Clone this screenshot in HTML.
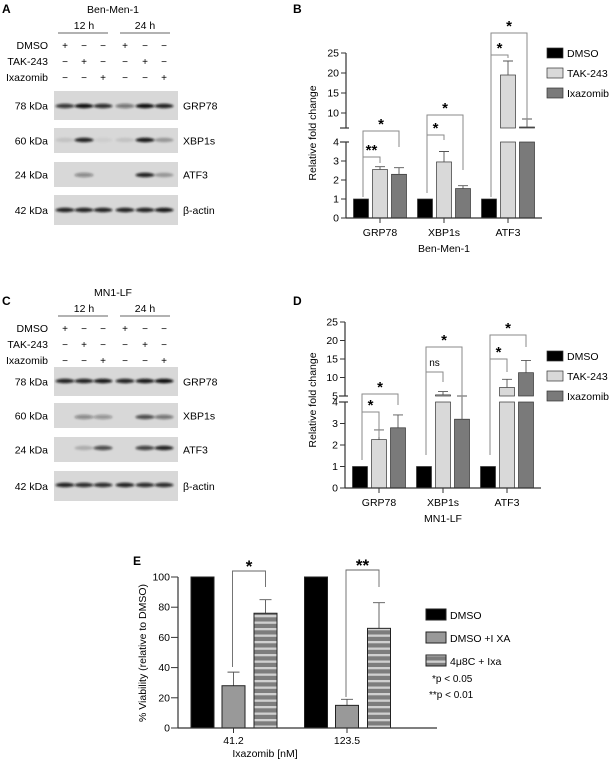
<!DOCTYPE html>
<html><head><meta charset="utf-8"><style>
html,body{margin:0;padding:0;background:#fff}
svg{display:block;font-family:"Liberation Sans",Arial,sans-serif}
</style></head><body>
<svg id="fig" width="612" height="762" viewBox="0 0 612 762" xmlns="http://www.w3.org/2000/svg">
<defs>
<filter id="blur" x="-20%" y="-200%" width="140%" height="500%"><feGaussianBlur stdDeviation="1.1"/></filter>
<pattern id="stripes" width="6" height="6.5" patternUnits="userSpaceOnUse"><rect width="6" height="6.5" fill="#7d7d7d"/><rect y="4" width="6" height="2.3" fill="#d0d0d0"/></pattern>
</defs>
<g id="panelA"></g>
<g id="panelC"></g>
<g id="panelB"></g>
<g id="panelD"></g>
<g id="panelE"></g>
</svg>
<script>
// ---- Panel B data ----
const bCategories = ["GRP78","XBP1s","ATF3"];
const bDMSO = [1,1,1];
const bTAK = [2.55,2.95,19.5];
const bTAKerr = [0.15,0.55,3.5];
const bIxa = [2.3,1.55,6.5];
const bIxaerr = [0.35,0.15,2];
const bLowTicks = [0,1,2,3,4];
const bHighTicks = [10,15,20,25];
// ---- Panel D data ----
const dCategories = ["GRP78","XBP1s","ATF3"];
const dDMSO = [1,1,1];
const dTAK = [2.25,5.3,7.3];
const dTAKerr = [0.45,0.9,2.2];
const dIxa = [2.8,3.2,11.3];
const dIxaerr = [0.6,1.8,3.3];
const dLowTicks = [0,1,2,3,4];
const dHighTicks = [5,10,15,20,25];
// ---- Panel E data ----
const eCategories = ["41.2","123.5"];
const eDMSO = [100,100];
const eIxa = [28,15];
const eIxaerr = [9,4];
const e4u8C = [76,66];
const e4u8Cerr = [9,17];
const eTicks = [0,20,40,60,80,100];
const seriesNames = ["DMSO","TAK-243","Ixazomib"];
const eSeriesNames = ["DMSO","DMSO +I XA","4\u03bc8C + Ixa"];
// blot band intensities per lane
const aBands = [[0.8,1,0.85,0.5,1,0.9],[0.1,0.9,0.05,0.1,0.95,0.3],[0,0.4,0,0,0.9,0.3],[0.9,0.9,0.9,0.9,0.9,0.95]];
const cBands = [[0.9,0.9,0.95,0.9,0.95,1],[0,0.4,0.35,0,0.7,0.5],[0,0.2,0.7,0,0.75,0.9],[0.9,0.85,0.85,0.9,0.85,0.85]];

const NS="http://www.w3.org/2000/svg";
function mk(parent,tag,attrs,text){const e=document.createElementNS(NS,tag);for(const k in attrs)e.setAttribute(k,attrs[k]);if(text!==undefined)e.textContent=text;parent.appendChild(e);return e;}

// ---------- Blots ----------
function blot(g,y0,title,boxes,bands,bandY){
  const cols=[65,84,103,125,145,164];
  let t=mk(g,'text',{x:113,y:y0+4,'font-size':10.5,'text-anchor':'middle'},title);
  
  
  [['12 h',84,58,108],['24 h',145,120,170]].forEach(h=>{
    let tt=mk(g,'text',{x:h[1],y:y0+20,'font-size':10.5,'text-anchor':'middle'},h[0]);
    
    
    mk(g,'line',{x1:h[2],x2:h[3],y1:y0+24,y2:y0+24,stroke:'#333','stroke-width':0.8});
  });
  const rows=['DMSO','TAK-243','Ixazomib'];
  const signs=[['+','−','−','+','−','−'],['−','+','−','−','+','−'],['−','−','+','−','−','+']];
  rows.forEach((r,i)=>{
    const yy=y0+40+i*16;
    let l=mk(g,'text',{x:48,y:yy,'font-size':10.5,'text-anchor':'end'},r);
    
    
    cols.forEach((c,j)=>{mk(g,'text',{x:c,y:yy,'font-size':10,'text-anchor':'middle'},signs[i][j]);});
  });
  const kda=['78 kDa','60 kDa','24 kDa','42 kDa'];const prot=['GRP78','XBP1s','ATF3','β-actin'];
  boxes.forEach((b,i)=>{
    let r=mk(g,'rect',{x:54,y:b[0],width:124,height:b[1]-b[0],fill:'#d8d8d8'});
    
    
    const my=(b[0]+b[1])/2;
    mk(g,'text',{x:48,y:my+4,'font-size':10.5,'text-anchor':'end'},kda[i]);
    mk(g,'text',{x:183,y:my+4,'font-size':10.5},prot[i]);
    bands[i].forEach((v,j)=>{
      if(v<=0.02)return;
      mk(g,'ellipse',{cx:cols[j],cy:bandY[i],rx:9.5,ry:2.2,fill:'#111','fill-opacity':v,filter:'url(#blur)'});
    });
  });
}
const gA=document.getElementById('panelA');
mk(gA,'text',{x:2,y:13,'font-size':12,'font-weight':'bold'},'A');
blot(gA,9,'Ben-Men-1',[[91,120],[128,153],[162,187],[195,225]],aBands,[106,140,175,210]);
const gC=document.getElementById('panelC');
mk(gC,'text',{x:2,y:305,'font-size':12,'font-weight':'bold'},'C');
blot(gC,292,'MN1-LF',[[367,396],[403,428],[437,462],[471,501]],cBands,[381,417,448,485]);

// ---------- Broken-axis bar charts ----------
function brokenChart(g,cfg){
  const yF=v=>{
    if(v<=cfg.lowMax) return cfg.y0-v*cfg.lowScale;
    if(v<cfg.upMin){const a=cfg.y0-cfg.lowMax*cfg.lowScale;return a+(v-cfg.lowMax)/(cfg.upMin-cfg.lowMax)*(cfg.breakY-a);}
    return cfg.breakY-(v-cfg.upMin)*cfg.upScale;
  };
  const lowTop=yF(cfg.lowMax);
  const xG=i=>cfg.gx0+i*cfg.gstep;
  const off=[-19,0,19], bw=15;
  const fills=['#000','#d9d9d9','#7a7a7a'];
  const series=[cfg.s0,cfg.s1,cfg.s2], errs=[null,cfg.e1,cfg.e2];
  // bars
  cfg.cats.forEach((c,i)=>{
    series.forEach((s,k)=>{
      const v=s[i], x=xG(i)+off[k]-bw/2;
      const lowV=Math.min(v,cfg.lowMax);
      let r=mk(g,'rect',{x:x,y:yF(lowV),width:bw,height:cfg.y0-yF(lowV),fill:fills[k],stroke:'#333','stroke-width':0.7});
      
      
      if(v>cfg.upMin){
        let r2=mk(g,'rect',{x:x,y:yF(v),width:bw,height:cfg.breakY-yF(v),fill:fills[k],stroke:'#333','stroke-width':0.7});
        
        
      }
      if(errs[k]){
        const cx=xG(i)+off[k], top=yF(v+errs[k][i]);
        let e=mk(g,'path',{d:`M${cx},${yF(v)}V${top}M${cx-5},${top}H${cx+5}`,stroke:'#555','stroke-width':0.9,fill:'none'});
        
        
      }
    });
    const gx=xG(i);
    mk(g,'line',{x1:gx,x2:gx,y1:cfg.y0,y2:cfg.y0+5,stroke:'#333','stroke-width':1});
    let cl=mk(g,'text',{x:gx,y:cfg.y0+18,'font-size':10.5,'text-anchor':'middle'},c);
    
    
  });
  // axes
  mk(g,'line',{x1:cfg.ax,x2:cfg.ax,y1:cfg.y0,y2:lowTop,stroke:'#333','stroke-width':1.2});
  mk(g,'line',{x1:cfg.ax,x2:cfg.ax,y1:cfg.breakY,y2:yF(cfg.hiTicks[cfg.hiTicks.length-1]),stroke:'#333','stroke-width':1.2});
  mk(g,'line',{x1:cfg.ax-6,x2:cfg.ax+3,y1:lowTop,y2:lowTop,stroke:'#333','stroke-width':1.2});
  mk(g,'line',{x1:cfg.ax-6,x2:cfg.ax+3,y1:cfg.breakY,y2:cfg.breakY,stroke:'#333','stroke-width':1.2});
  let xa=mk(g,'line',{x1:cfg.ax,x2:cfg.axEnd,y1:cfg.y0,y2:cfg.y0,stroke:'#333','stroke-width':1.2});
  
  
  cfg.lowTicks.concat(cfg.hiTicks).forEach(t=>{
    const y=yF(t);
    mk(g,'line',{x1:cfg.ax-5,x2:cfg.ax,y1:y,y2:y,stroke:'#333','stroke-width':1});
    let tl=mk(g,'text',{x:cfg.ax-7,y:y+3.5,'font-size':10.5,'text-anchor':'end'},String(t));
    
    
  });
  let yt=mk(g,'text',{x:0,y:0,'font-size':10.5,'text-anchor':'middle',transform:`translate(${cfg.titleX},${cfg.titleY}) rotate(-90)`},'Relative fold change');
  
  
  let sub=mk(g,'text',{x:xG(1),y:cfg.y0+34,'font-size':10.5,'text-anchor':'middle'},cfg.sub);
  
  
  // brackets
  cfg.br.forEach(b=>{
    const xa_=xG(b[0])+off[b[1]]+2, xb=xG(b[0])+off[b[2]];
    mk(g,'path',{d:`M${xa_},${b[4]}V${b[3]}H${xb}V${b[5]}`,stroke:'#8a8a8a','stroke-width':1,fill:'none'});
    let s=mk(g,'text',{x:(xa_+xb)/2,y:b[6]==='ns'?b[3]-6:b[3]-2,'font-size':b[6]==='ns'?10:15,'text-anchor':'middle','font-weight':'bold'},b[6]);
    
    
    if(b[6]==='ns')s.setAttribute('font-weight','normal');
  });
  // legend
  seriesNames.forEach((n,k)=>{
    const y=cfg.legY+k*20;
    let r=mk(g,'rect',{x:547,y:y,width:16,height:10,fill:fills[k],stroke:'#333','stroke-width':0.7});
    
    
    let t=mk(g,'text',{x:567,y:y+9,'font-size':10.5},n);
    
    
  });
}
const gB=document.getElementById('panelB');
mk(gB,'text',{x:293,y:13,'font-size':12,'font-weight':'bold'},'B');
brokenChart(gB,{y0:218,lowScale:19,lowMax:4,breakY:128,upMin:6.25,upScale:4,ax:346,axEnd:542,gx0:380,gstep:64,
  cats:bCategories,s0:bDMSO,s1:bTAK,s2:bIxa,e1:bTAKerr,e2:bIxaerr,lowTicks:bLowTicks,hiTicks:bHighTicks,
  titleX:316,titleY:133,sub:'Ben-Men-1',legY:48,
  br:[[0,0,1,157,167,163,'**'],[0,0,2,131,197,147,'*'],[1,0,1,135,193,140,'*'],[1,0,2,115,193,170,'*'],[2,0,1,55,197,58,'*'],[2,0,2,33,197,120,'*']]});
const gD=document.getElementById('panelD');
mk(gD,'text',{x:293,y:305,'font-size':12,'font-weight':'bold'},'D');
brokenChart(gD,{y0:488,lowScale:21.5,lowMax:4,breakY:396,upMin:5,upScale:3.7,ax:345,axEnd:541,gx0:379,gstep:64,
  cats:dCategories,s0:dDMSO,s1:dTAK,s2:dIxa,e1:dTAKerr,e2:dIxaerr,lowTicks:dLowTicks,hiTicks:dHighTicks,
  titleX:316,titleY:400,sub:'MN1-LF',legY:351,
  br:[[0,0,1,412,428,437,'*'],[0,0,2,394,460,405,'*'],[1,0,1,372,455,382,'ns'],[1,0,2,347,455,397,'*'],[2,0,1,359,455,372,'*'],[2,0,2,335,455,347,'*']]});

// ---------- Panel E ----------
(function(){
  const g=document.getElementById('panelE');
  mk(g,'text',{x:133,y:565,'font-size':12,'font-weight':'bold'},'E');
  const y0=728, sc=1.51, ax=178;
  const yE=v=>y0-v*sc;
  const xG=i=>233.5+i*113.5;
  const off=[-31,0,32], bw=23;
  const fills=['#000','#999','url(#stripes)'];
  const series=[eDMSO,eIxa,e4u8C], errs=[null,eIxaerr,e4u8Cerr];
  eCategories.forEach((c,i)=>{
    series.forEach((s,k)=>{
      const cx=xG(i)+off[k];
      if(errs[k]){
        mk(g,'path',{d:`M${cx},${yE(s[i])}V${yE(s[i]+errs[k][i])}M${cx-6},${yE(s[i]+errs[k][i])}H${cx+6}`,stroke:'#555','stroke-width':0.9,fill:'none'});
      }
      let r=mk(g,'rect',{x:cx-bw/2,y:yE(s[i]),width:bw,height:y0-yE(s[i]),fill:fills[k],stroke:'#222','stroke-width':1});
      
      
    });
    mk(g,'line',{x1:xG(i),x2:xG(i),y1:y0,y2:y0+5,stroke:'#333'});
    let t=mk(g,'text',{x:xG(i),y:y0+16,'font-size':10.5,'text-anchor':'middle'},c);
    
    
  });
  mk(g,'line',{x1:ax,x2:ax,y1:y0,y2:yE(100),stroke:'#333','stroke-width':1.2});
  mk(g,'line',{x1:ax,x2:437,y1:y0,y2:y0,stroke:'#333','stroke-width':1.2});
  eTicks.forEach(t=>{
    mk(g,'line',{x1:ax-7,x2:ax,y1:yE(t),y2:yE(t),stroke:'#333'});
    let l=mk(g,'text',{x:ax-8,y:yE(t)+3.5,'font-size':10.5,'text-anchor':'end'},String(t));
    
    
  });
  let yt=mk(g,'text',{x:0,y:0,'font-size':10.5,'text-anchor':'middle',transform:'translate(146,653) rotate(-90)'},'% Viability (relative to DMSO)');
  
  
  let xt=mk(g,'text',{x:265,y:757,'font-size':10.5,'text-anchor':'middle'},'Ixazomib [nM]');
  
  
  const br=[[0,1,2,571,667,587,'*'],[1,1,2,570,697,587,'**']];
  br.forEach(b=>{
    const xa=xG(b[0])+off[b[1]]-1, xb=xG(b[0])+off[b[2]];
    mk(g,'path',{d:`M${xa},${b[4]}V${b[3]}H${xb}V${b[5]}`,stroke:'#666','stroke-width':0.9,fill:'none'});
    let s=mk(g,'text',{x:(xa+xb)/2,y:b[3]+1,'font-size':17,'font-weight':'bold','text-anchor':'middle'},b[6]);
    
    
  });
  const lf=['#000','#999','url(#stripes)'];
  eSeriesNames.forEach((n,k)=>{
    const y=609+k*23;
    let r=mk(g,'rect',{x:426,y:y,width:20,height:11,fill:lf[k],stroke:'#222','stroke-width':1});
    
    
    let t=mk(g,'text',{x:450,y:y+10,'font-size':10.5},n);
    
    
  });
  let p1=mk(g,'text',{x:432,y:682,'font-size':10},'*p < 0.05');
  
  
  let p2=mk(g,'text',{x:429,y:698,'font-size':10},'**p < 0.01');
  
  
})();
</script>
</body></html>
